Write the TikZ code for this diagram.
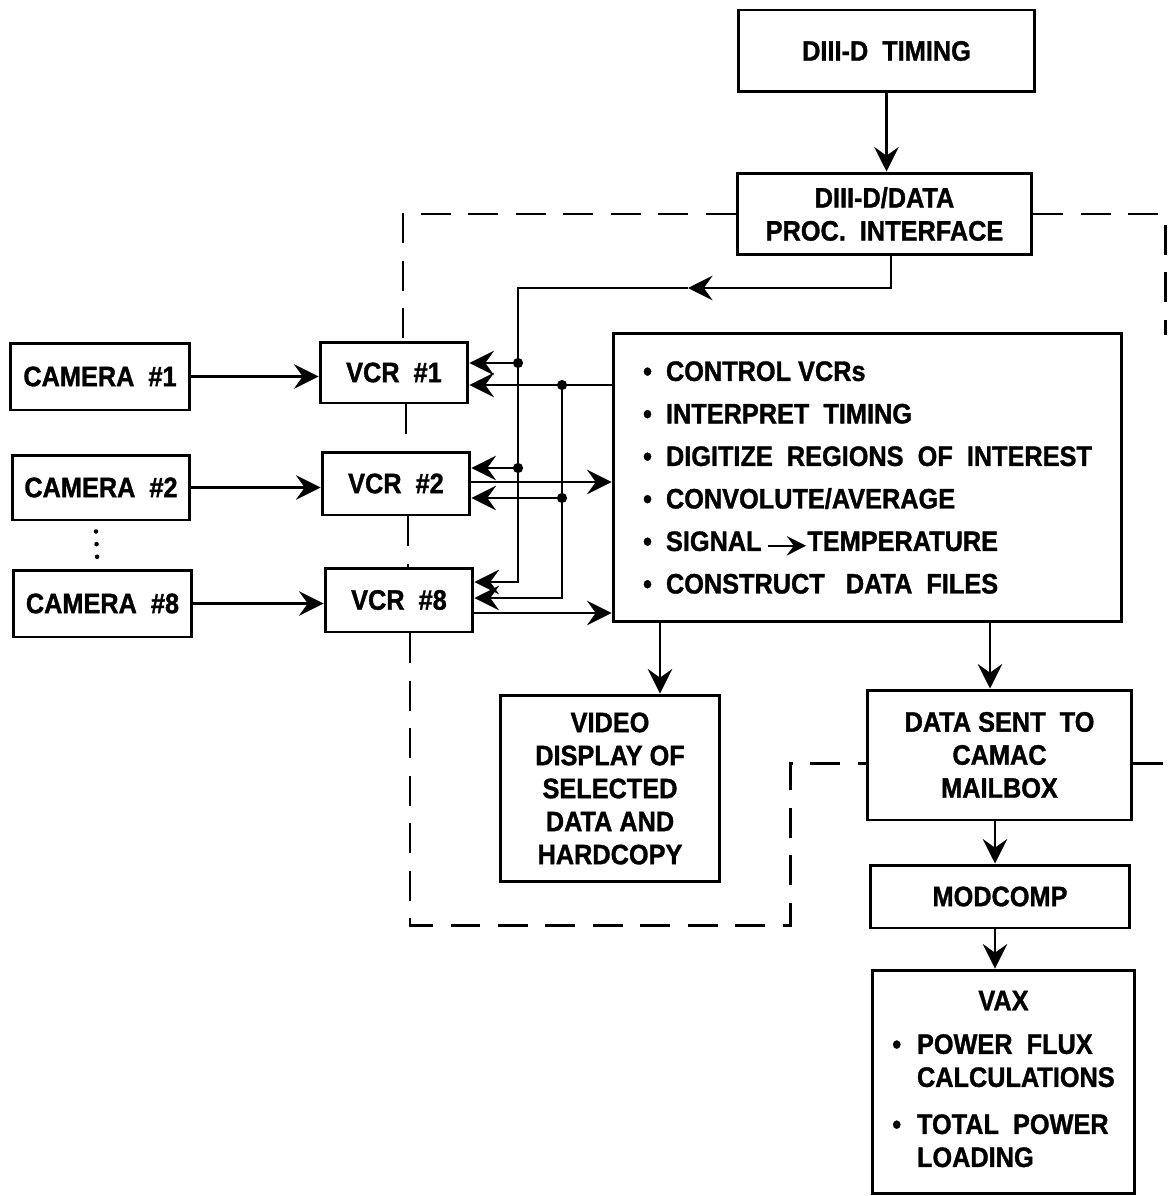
\documentclass[tikz,border=0pt]{standalone}
\usepackage{fontspec}
\setmainfont{Liberation Sans}[FakeStretch=0.9, BoldFeatures={FakeBold=1.2}]
\usetikzlibrary{arrows.meta,calc}
\newcommand{\sigarrow}{\tikz[baseline=-0.35ex]\draw[line width=1.4pt,-{Stealth[length=11pt,width=11pt,inset=4pt]}] (0pt,0pt) -- (22pt,0pt);}
\begin{document}
\begin{tikzpicture}[x=0.02cm,y=-0.02cm,
  box/.style={draw, line width=1.7pt, align=center, inner sep=2pt,
    font=\fontsize{16}{18.8}\selectfont\bfseries},
  arr/.style={line width=1.3pt, -{Stealth[length=14pt,width=14pt,inset=5pt]}},
  dashline/.style={line width=1.7pt, dash pattern=on 17pt off 10pt},
  jdot/.style={fill=black}]
\useasboundingbox (0,0) rectangle (1167,1196);

% boxes
\node[box, minimum width=5.94cm, minimum height=1.64cm] (timing) at (886.5,51) {DIII-D\ \ TIMING};
\node[box, minimum width=5.9cm, minimum height=1.64cm] (iface) at (884.5,214) {DIII-D/DATA\\PROC.\ \ INTERFACE};
\node[box, minimum width=3.6cm, minimum height=1.34cm] (cam1) at (100,376.5) {CAMERA\ \ \#1};
\node[box, minimum width=3.56cm, minimum height=1.3cm] (cam2) at (101,487.5) {CAMERA\ \ \#2};
\node[box, minimum width=3.58cm, minimum height=1.34cm] (cam8) at (102.5,603.5) {CAMERA\ \ \#8};
\node[box, minimum width=2.96cm, minimum height=1.22cm] (vcr1) at (394,372.5) {VCR\ \ \#1};
\node[box, minimum width=2.96cm, minimum height=1.26cm] (vcr2) at (396,483.5) {VCR\ \ \#2};
\node[box, minimum width=2.96cm, minimum height=1.28cm] (vcr8) at (399,600) {VCR\ \ \#8};
\node[box, minimum width=10.18cm, minimum height=5.78cm, align=left,
  font=\fontsize{16}{24.2}\selectfont\bfseries] (proc) at (867.5,477.5)
  {\textbullet\hspace{8pt}CONTROL VCRs\\
   \textbullet\hspace{8pt}INTERPRET\ \ TIMING\\
   \textbullet\hspace{8pt}DIGITIZE\ \ REGIONS\ \ OF\ \ INTEREST\\
   \textbullet\hspace{8pt}CONVOLUTE/AVERAGE\\
   \textbullet\hspace{8pt}SIGNAL\,\sigarrow TEMPERATURE\\
   \textbullet\hspace{8pt}CONSTRUCT\ \ \ DATA\ \ FILES};
\node[box, minimum width=4.4cm, minimum height=3.74cm] (video) at (610,788.5)
  {VIDEO\\DISPLAY OF\\SELECTED\\DATA AND\\HARDCOPY};
\node[box, minimum width=5.3cm, minimum height=2.6cm] (data) at (999.5,755)
  {DATA\ SENT\ \ TO\\CAMAC\\MAILBOX};
\node[box, minimum width=5.2cm, minimum height=1.26cm] (modcomp) at (1000,896.5) {MODCOMP};
\node[box, minimum width=5.26cm, minimum height=4.48cm] (vax) at (1003.5,1082)
  {\begin{tabular}{@{}l@{\hspace{9pt}}l@{}}
   \multicolumn{2}{c}{VAX}\\[6pt]
   \textbullet & POWER\ \ FLUX\\
               & CALCULATIONS\\[8pt]
   \textbullet & TOTAL\ \ POWER\\
               & LOADING
   \end{tabular}};

% solid connectors
\draw[arr] (timing.south) -- (timing.south |- iface.north);
\coordinate (amid) at (688,288);
\coordinate (busA) at (518,288);
\coordinate (yA8) at (0,582);
\draw[arr] ($(iface.south)+(6.5,0)$) |- (amid);
\draw[arr] (amid) -- (busA) |- (vcr8.east |- yA8);
\coordinate (j1) at (518,363);
\coordinate (j2) at (518,468);
\draw[arr] (j1) -- (vcr1.east |- j1);
\draw[arr] (j2) -- (vcr2.east |- j2);
\coordinate (k1) at (562,385);
\coordinate (k2) at (562,498);
\coordinate (kb) at (562,598);
\draw[arr] (proc.west |- k1) -- (vcr1.east |- k1);
\draw[arr] (k1) -- (kb) -- (vcr8.east |- kb);
\draw[arr] (k2) -- (vcr2.east |- k2);
\coordinate (o2) at (0,482);
\coordinate (o8) at (0,613);
\draw[arr] (vcr2.east |- o2) -- (proc.west |- o2);
\draw[arr] (vcr8.east |- o8) -- (proc.west |- o8);
\foreach \p in {j1,j2,k1,k2} \fill[jdot] (\p) circle[radius=2.9pt];

\draw[arr] (cam1.east) -- (cam1.east -| vcr1.west);
\draw[arr] (cam2.east) -- (cam2.east -| vcr2.west);
\draw[arr] (cam8.east) -- (cam8.east -| vcr8.west);
\draw[line width=2.6pt, line cap=round, dash pattern=on 0pt off 7.2pt]
  ($(cam2.south)+(-5,10)$) -- ($(cam8.north)+(-5,-2)$);

\coordinate (vx) at (660,0);
\coordinate (dx) at (990,0);
\coordinate (mx) at (995,0);
\draw[arr] (proc.south -| vx) -- (video.north -| vx);
\draw[arr] (proc.south -| dx) -- (data.north -| dx);
\draw[arr] (data.south -| mx) -- (modcomp.north -| mx);
\draw[arr] (modcomp.south -| mx) -- (vax.north -| mx);

% dashed connectors
\coordinate (d1) at (403,0);
\coordinate (d2) at (406,0);
\coordinate (d3) at (408,0);
\coordinate (d4) at (410,925);
\coordinate (d5) at (790,925);
\coordinate (d6) at (790,763);
\draw[dashline] (iface.west) -| (vcr1.north -| d1);
\draw[dashline] (vcr1.south -| d2) -- (vcr2.north -| d2);
\draw[dashline] (vcr2.south -| d3) -- (vcr8.north -| d3);
\draw[dashline] (vcr8.south -| d4) -- (d4) -- (d5) -- (d6) -- (data.west |- d6);
\coordinate (r1) at (1165,214);
\coordinate (r2) at (1165,335);
\coordinate (r3) at (1167,763);
\draw[dashline] (iface.east) -- (r1) -- (r2);
\draw[dashline] (data.east |- r3) -- (r3);
\end{tikzpicture}
\end{document}
